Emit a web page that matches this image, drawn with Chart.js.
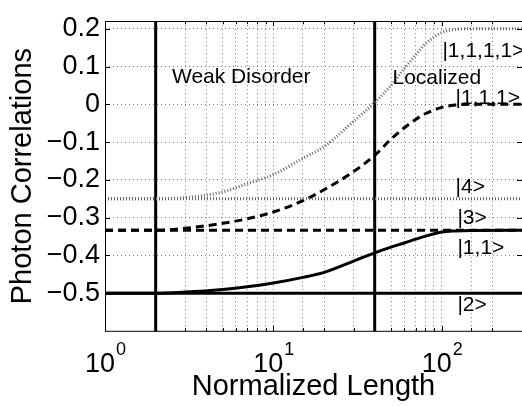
<!DOCTYPE html>
<html>
<head>
<meta charset="utf-8">
<script src="https://cdn.jsdelivr.net/npm/chart.js@4/dist/chart.umd.min.js"></script>
<style>
  body { margin: 0; background: #fff; }
</style>
</head>
<body>
<canvas id="myChart" width="522" height="406"></canvas>
<script>
// Photon correlations vs normalized length
const lengths = [1, 2, 3, 5, 7, 10, 15, 20, 30, 40, 50, 60, 70, 80, 100, 120, 150, 300];
const corr11 = [-0.5, -0.5, -0.497, -0.49, -0.483, -0.473, -0.458, -0.445, -0.415, -0.393, -0.378, -0.367, -0.357, -0.349, -0.338, -0.335, -0.3337, -0.3333];
const corr111 = [-0.3333, -0.3333, -0.328, -0.315, -0.303, -0.285, -0.255, -0.226, -0.178, -0.135, -0.092, -0.062, -0.04, -0.025, -0.008, -0.002, 0, 0];
const corr1111 = [-0.25, -0.25, -0.247, -0.232, -0.21, -0.186, -0.143, -0.112, -0.045, 0.005, 0.05, 0.095, 0.13, 0.16, 0.19, 0.198, 0.2, 0.2];

// fock states (flat lines)
const state2 = -0.5;
const state3 = -0.3333;
const state4 = -0.25;

// regime boundaries
const boundaries = [2, 40];

const xRange = [1, 300];
const yRange = [-0.6, 0.22];
const xMajor = [1, 10, 100];

const notes = [
    { text: 'Weak Disorder', x: 2.5, y: 0.056 },
    { text: 'Localized', x: 51, y: 0.055 },
    { text: '|1,1,1,1>', x: 101, y: 0.124 },
    { text: '|1,1,1>', x: 121, y: 0.0 },
    { text: '|4>', x: 121, y: -0.236 },
    { text: '|3>', x: 124, y: -0.317 },
    { text: '|1,1>', x: 124, y: -0.396 },
    { text: '|2>', x: 124, y: -0.548 }
];

const FONT = '"Liberation Sans", Arial, Helvetica, sans-serif';

const toPoints = (xs, ys) => xs.map((v, i) => ({ x: v, y: ys[i] }));
const flat = v => xRange.map(x => ({ x: x, y: v }));
const vertical = v => yRange.map(y => ({ x: v, y: y }));

const solid = { borderColor: '#000', borderWidth: 3, pointRadius: 0, borderDash: [] };
const dashed = { borderColor: '#000', borderWidth: 3, pointRadius: 0, borderDash: [8, 5] };
const dotted = { borderColor: '#666', borderWidth: 3, pointRadius: 0, borderDash: [1, 2] };

const decorations = {
    id: 'decorations',
    afterDraw(chart) {
        const { ctx, chartArea: a, scales: { x, y } } = chart;
        ctx.save();
        ctx.strokeStyle = '#000';
        ctx.lineWidth = 1;
        ctx.setLineDash([]);
        ctx.strokeRect(Math.round(a.left) + 0.5, Math.round(a.top) + 0.5, a.right - a.left, a.bottom - a.top);

        // inward ticks
        ctx.beginPath();
        y.ticks.forEach(t => {
            const py = Math.round(y.getPixelForValue(t.value)) + 0.5;
            ctx.moveTo(a.left, py); ctx.lineTo(a.left + 5, py);
            ctx.moveTo(a.right, py); ctx.lineTo(a.right - 5, py);
        });
        x.ticks.forEach(t => {
            const px = Math.round(x.getPixelForValue(t.value)) + 0.5;
            const len = xMajor.includes(t.value) ? 5 : 3;
            ctx.moveTo(px, a.bottom); ctx.lineTo(px, a.bottom - len);
            ctx.moveTo(px, a.top); ctx.lineTo(px, a.top + len);
        });
        ctx.stroke();

        // x tick labels 10^n
        ctx.fillStyle = '#000';
        ctx.textAlign = 'left';
        ctx.textBaseline = 'alphabetic';
        xMajor.forEach(v => {
            const base = '10';
            const exp = String(Math.round(Math.log10(v)));
            ctx.font = '27px ' + FONT;
            const w1 = ctx.measureText(base).width;
            ctx.font = '18px ' + FONT;
            const w2 = ctx.measureText(exp).width;
            const px = x.getPixelForValue(v) - (w1 + w2) / 2;
            ctx.font = '27px ' + FONT;
            ctx.fillText(base, px, a.bottom + 41);
            ctx.font = '18px ' + FONT;
            ctx.fillText(exp, px + w1 + 1, a.bottom + 24);
        });

        // annotations
        ctx.font = '21px ' + FONT;
        notes.forEach(n => {
            ctx.fillText(n.text, x.getPixelForValue(n.x), y.getPixelForValue(n.y));
        });
        ctx.restore();
    }
};

new Chart(document.getElementById('myChart'), {
    type: 'line',
    data: {
        datasets: [
            { data: flat(state2), ...solid },
            { data: flat(state3), ...dashed },
            { data: flat(state4), ...dotted },
            { data: toPoints(lengths, corr11), ...solid, cubicInterpolationMode: 'monotone' },
            { data: toPoints(lengths, corr111), ...dashed, cubicInterpolationMode: 'monotone' },
            { data: toPoints(lengths, corr1111), ...dotted, cubicInterpolationMode: 'monotone' },
            { data: vertical(boundaries[0]), ...solid },
            { data: vertical(boundaries[1]), ...solid }
        ]
    },
    options: {
        responsive: false,
        animation: false,
        devicePixelRatio: 1,
        layout: { padding: { top: 8, right: 0, left: 0, bottom: 0 } },
        plugins: { legend: { display: false }, tooltip: { enabled: false } },
        scales: {
            x: {
                type: 'logarithmic',
                min: xRange[0],
                max: xRange[1],
                afterFit: s => { s.height = 75; },
                ticks: { display: false },
                grid: { color: 'rgba(0,0,0,0.5)', lineWidth: 1, drawTicks: false },
                border: { display: false, dash: [1, 3] },
                title: {
                    display: true,
                    text: 'Normalized Length',
                    color: '#000',
                    font: { family: FONT, size: 29 },
                    padding: { top: 0, bottom: 2 }
                }
            },
            y: {
                min: yRange[0],
                max: yRange[1],
                afterFit: s => { s.width = 105; },
                ticks: {
                    stepSize: 0.1,
                    includeBounds: false,
                    autoSkip: false,
                    padding: 5,
                    color: '#000',
                    font: { family: FONT, size: 27 },
                    callback: v => {
                        const r = Math.round(v * 10) / 10;
                        if (r <= -0.6) return null;
                        if (r === 0) return '0';
                        return (r < 0 ? '\u2212' : '') + Math.abs(r).toFixed(1);
                    }
                },
                grid: { color: 'rgba(0,0,0,0.5)', lineWidth: 1, drawTicks: false },
                border: { display: false, dash: [1, 3] },
                title: {
                    display: true,
                    text: 'Photon Correlations',
                    color: '#000',
                    font: { family: FONT, size: 29 },
                    padding: { top: 6, bottom: 0 }
                }
            }
        }
    },
    plugins: [decorations]
});
</script>
</body>
</html>
